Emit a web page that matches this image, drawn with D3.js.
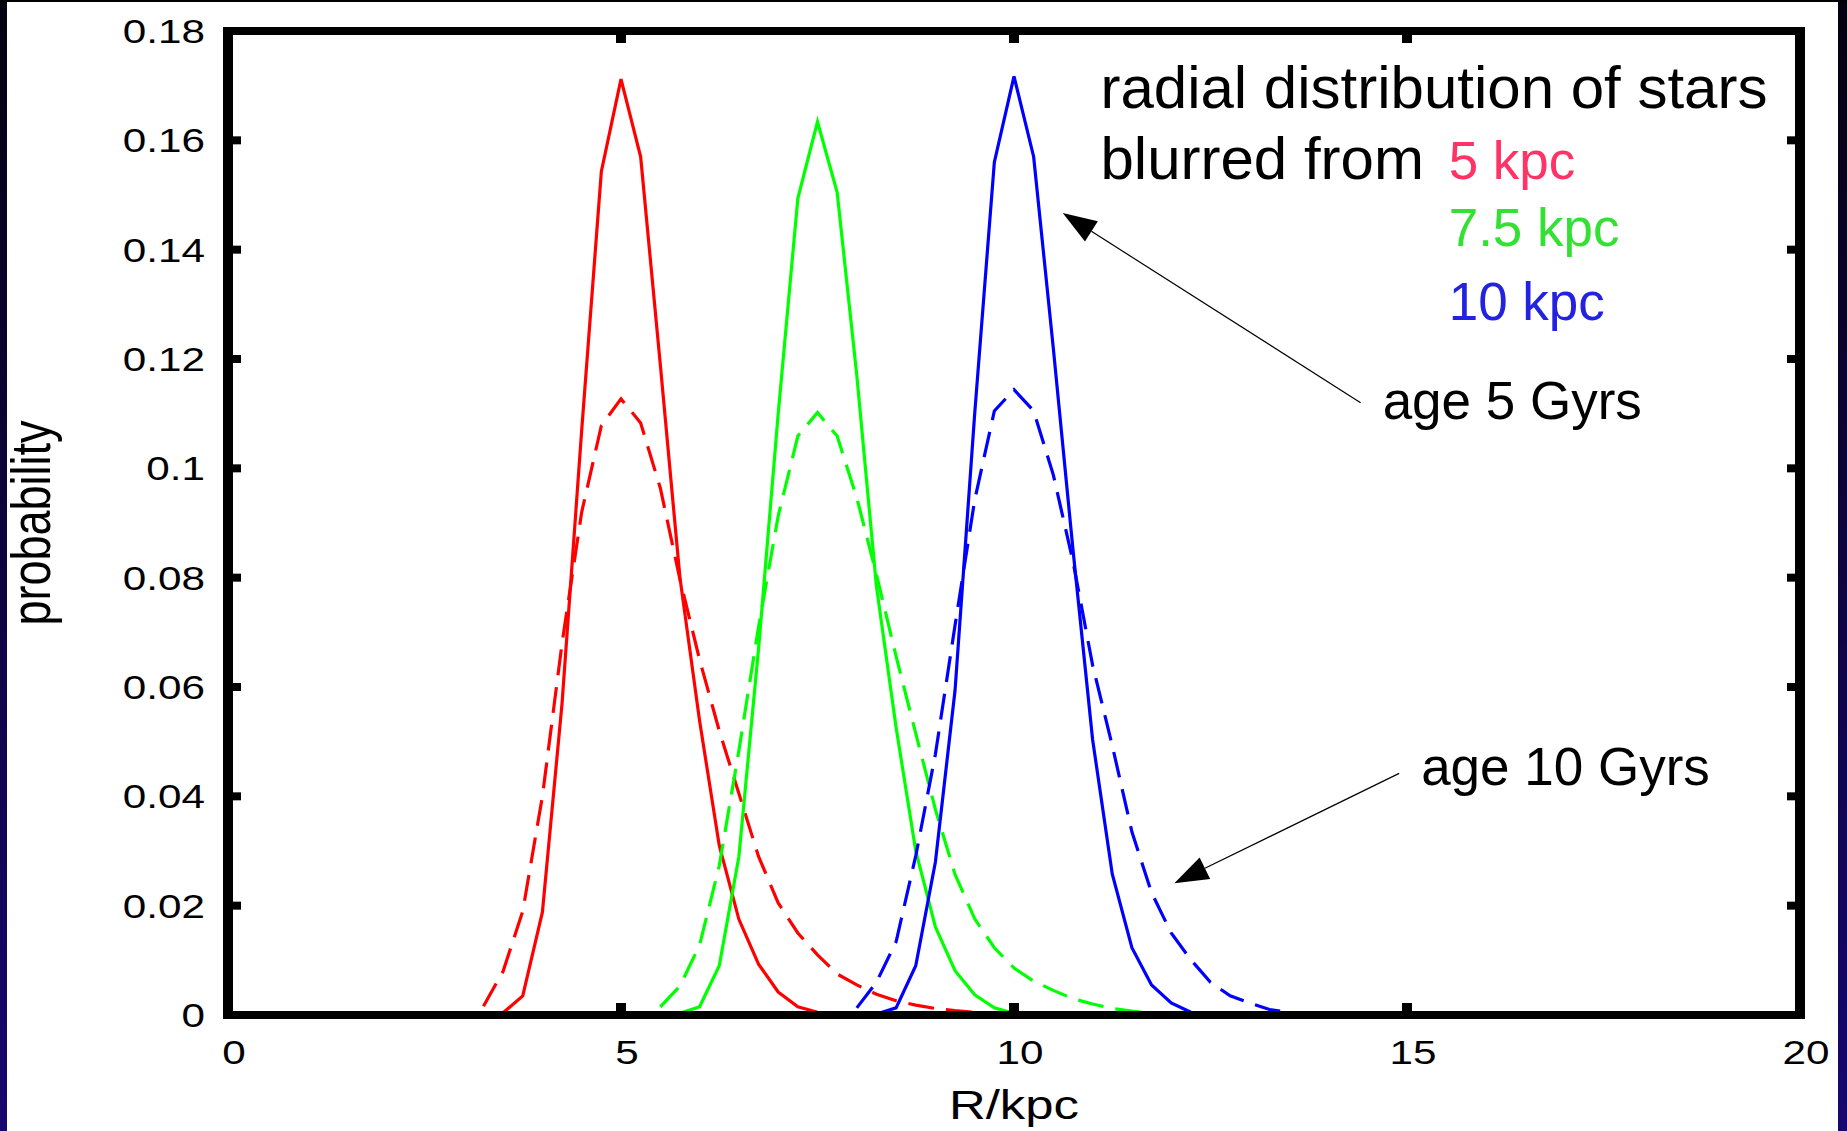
<!DOCTYPE html>
<html>
<head>
<meta charset="utf-8">
<script src="https://cdn.jsdelivr.net/npm/d3@7"></script>
<style>
  html, body { margin: 0; padding: 0; background: #fff; }
  svg { display: block; }
</style>
</head>
<body>
<script>
// values, R in kpc, probability per 0.25 kpc bin
const age5From5 = [[3.5,0.0004],[3.75,0.0035],[4.0,0.0188],[4.25,0.057],[4.5,0.107],[4.75,0.1543],[5.0,0.1712],[5.25,0.157],[5.5,0.119],[5.75,0.080],[6.0,0.0538],[6.25,0.031],[6.5,0.0175],[6.75,0.0093],[7.0,0.0042],[7.25,0.0015],[7.5,0.0005],[7.75,0.0002],[8.0,0.0001]];
const age10From5 = [[3.25,0.0016],[3.5,0.008],[3.75,0.019],[4.0,0.040],[4.25,0.068],[4.5,0.092],[4.75,0.1078],[5.0,0.1127],[5.25,0.1083],[5.5,0.0964],[5.75,0.0797],[6.0,0.065],[6.25,0.052],[6.5,0.0405],[6.75,0.029],[7.0,0.0205],[7.25,0.015],[7.5,0.011],[7.75,0.0075],[8.0,0.0055],[8.25,0.0038],[8.5,0.0026],[8.75,0.0018],[9.0,0.0012],[9.25,0.0008],[9.5,0.0005],[9.75,0.0002]];
const age5From75 = [[5.75,0.0003],[6.0,0.0015],[6.25,0.009],[6.5,0.029],[6.75,0.067],[7.0,0.110],[7.25,0.1494],[7.5,0.1634],[7.75,0.1505],[8.0,0.117],[8.25,0.0784],[8.5,0.0526],[8.75,0.030],[9.0,0.0161],[9.25,0.0081],[9.5,0.0037],[9.75,0.0013],[10.0,0.0003]];
const age10From75 = [[5.5,0.0015],[5.75,0.0053],[6.0,0.0128],[6.25,0.0273],[6.5,0.0484],[6.75,0.071],[7.0,0.0913],[7.25,0.1059],[7.5,0.1102],[7.75,0.1059],[8.0,0.0946],[8.25,0.0806],[8.5,0.0656],[8.75,0.0515],[9.0,0.0376],[9.25,0.0257],[9.5,0.0176],[9.75,0.0123],[10.0,0.0086],[10.25,0.0062],[10.5,0.0045],[10.75,0.003],[11.0,0.002],[11.25,0.0012],[11.5,0.0007],[11.75,0.0003]];
const age5From10 = [[8.25,0.0002],[8.5,0.0013],[8.75,0.009],[9.0,0.028],[9.25,0.0594],[9.5,0.110],[9.75,0.156],[10.0,0.1717],[10.25,0.157],[10.5,0.122],[10.75,0.0852],[11.0,0.0504],[11.25,0.0258],[11.5,0.0123],[11.75,0.0055],[12.0,0.0022],[12.25,0.0005]];
const age10From10 = [[8.0,0.0013],[8.25,0.006],[8.5,0.0134],[8.75,0.0291],[9.0,0.0477],[9.25,0.0713],[9.5,0.0942],[9.75,0.1105],[10.0,0.1144],[10.25,0.1105],[10.5,0.0988],[10.75,0.083],[11.0,0.064],[11.25,0.0493],[11.5,0.0335],[11.75,0.0224],[12.0,0.015],[12.25,0.0101],[12.5,0.006],[12.75,0.0035],[13.0,0.0022],[13.25,0.001],[13.5,0.0005],[13.75,0.0002],[14.0,0.0001]];

const xTicks = [0, 5, 10, 15, 20];
const yTicks = [0, 0.02, 0.04, 0.06, 0.08, 0.1, 0.12, 0.14, 0.16, 0.18];
const yTickLabels = ["0", "0.02", "0.04", "0.06", "0.08", "0.1", "0.12", "0.14", "0.16", "0.18"];

const seriesColors = ["#ff0000", "#00ff00", "#0000ff"];
const series = [
    { data: age5From5, color: 0, dashed: false },
    { data: age10From5, color: 0, dashed: true },
    { data: age5From75, color: 1, dashed: false },
    { data: age10From75, color: 1, dashed: true },
    { data: age5From10, color: 2, dashed: false },
    { data: age10From10, color: 2, dashed: true }
];

const width = 1847, height = 1131;
const margin = { left: 228, right: 47, top: 31, bottom: 116 };

const x = d3.scaleLinear().domain([0, 20]).range([margin.left, width - margin.right]);
const y = d3.scaleLinear().domain([0, 0.18]).range([height - margin.bottom, margin.top]);

const svg = d3.select("body").append("svg")
    .attr("width", width)
    .attr("height", height)
    .attr("viewBox", [0, 0, width, height]);

// dark slide background round the white picture
const grad = svg.append("defs").append("linearGradient")
    .attr("id", "edge").attr("x1", 0).attr("y1", 0).attr("x2", 0).attr("y2", 1);
grad.append("stop").attr("offset", "0%").attr("stop-color", "#04020f");
grad.append("stop").attr("offset", "100%").attr("stop-color", "#170770");

svg.append("rect").attr("width", width).attr("height", height).attr("fill", "#fff");
svg.append("rect").attr("x", 0).attr("y", 0).attr("width", 7).attr("height", height).attr("fill", "url(#edge)");
svg.append("rect").attr("x", 1838).attr("y", 0).attr("width", 9).attr("height", height).attr("fill", "url(#edge)");
svg.append("rect").attr("x", 0).attr("y", 0).attr("width", width).attr("height", 2).attr("fill", "#000");

// curves
const line = d3.line().x(d => x(d[0])).y(d => y(d[1]));

svg.append("g")
    .attr("fill", "none")
    .attr("stroke-width", 3.2)
    .attr("stroke-linejoin", "miter")
    .selectAll("path")
    .data(series)
    .join("path")
    .attr("stroke", d => seriesColors[d.color])
    .attr("stroke-dasharray", d => d.dashed ? "26,12" : null)
    .attr("d", d => line(d.data));

// frame and ticks, gnuplot style (mirrored on all sides)
const frame = svg.append("g").attr("stroke", "#000");

frame.selectAll(".yt")
    .data(yTicks)
    .join("g")
    .call(g => g.append("line")
        .attr("x1", x(0)).attr("x2", x(0) + 13)
        .attr("y1", d => y(d)).attr("y2", d => y(d))
        .attr("stroke-width", 8))
    .call(g => g.append("line")
        .attr("x1", x(20)).attr("x2", x(20) - 13)
        .attr("y1", d => y(d)).attr("y2", d => y(d))
        .attr("stroke-width", 8));

frame.selectAll(".xt")
    .data(xTicks)
    .join("g")
    .call(g => g.append("line")
        .attr("x1", d => x(d)).attr("x2", d => x(d))
        .attr("y1", y(0)).attr("y2", y(0) - 12)
        .attr("stroke-width", 10))
    .call(g => g.append("line")
        .attr("x1", d => x(d)).attr("x2", d => x(d))
        .attr("y1", y(0.18)).attr("y2", y(0.18) + 12)
        .attr("stroke-width", 10));

frame.append("line").attr("x1", x(0) - 5).attr("x2", x(20) + 5).attr("y1", y(0)).attr("y2", y(0)).attr("stroke-width", 8);
frame.append("line").attr("x1", x(0) - 5).attr("x2", x(20) + 5).attr("y1", y(0.18)).attr("y2", y(0.18)).attr("stroke-width", 8);
frame.append("line").attr("x1", x(0)).attr("x2", x(0)).attr("y1", y(0.18) - 4).attr("y2", y(0) + 4).attr("stroke-width", 10);
frame.append("line").attr("x1", x(20)).attr("x2", x(20)).attr("y1", y(0.18) - 4).attr("y2", y(0) + 4).attr("stroke-width", 10);

// tick labels (the original picture is stretched sideways)
const tickFont = "'Liberation Sans', Arial, sans-serif";
const stretch = 1.28;

svg.append("g")
    .attr("font-family", tickFont)
    .attr("font-size", 33)
    .attr("text-anchor", "end")
    .selectAll("text")
    .data(yTicks)
    .join("text")
    .attr("transform", d => `translate(${x(0) - 23},${y(d) + 12}) scale(${stretch},1)`)
    .text((d, i) => yTickLabels[i]);

svg.append("g")
    .attr("font-family", tickFont)
    .attr("font-size", 33)
    .attr("text-anchor", "middle")
    .selectAll("text")
    .data(xTicks)
    .join("text")
    .attr("transform", d => `translate(${x(d) + 6},${y(0) + 49}) scale(${stretch},1)`)
    .text(d => d);

svg.append("text")
    .attr("font-family", tickFont)
    .attr("font-size", 41)
    .attr("text-anchor", "middle")
    .attr("transform", `translate(${x(10)},${height - 12}) scale(1.24,1)`)
    .text("R/kpc");

svg.append("text")
    .attr("font-family", tickFont)
    .attr("font-size", 45)
    .attr("text-anchor", "middle")
    .attr("transform", `translate(50,${y(0.09)}) scale(1.25,1) rotate(-90)`)
    .text("probability");

// annotations
const labelFont = "'Liberation Sans', Arial, sans-serif";
const notes = [
    { text: "radial distribution of stars", r: 11.1, p: 0.1659, size: 60, fill: "#000" },
    { text: "blurred from", r: 11.1, p: 0.153, size: 60, fill: "#000" },
    { text: "5 kpc", r: 15.53, p: 0.153, size: 53, fill: "#ff3366" },
    { text: "7.5 kpc", r: 15.53, p: 0.1407, size: 53, fill: "#33e033" },
    { text: "10 kpc", r: 15.53, p: 0.1271, size: 53, fill: "#2222e0" },
    { text: "age 5 Gyrs", r: 14.69, p: 0.109, size: 53, fill: "#000" },
    { text: "age 10 Gyrs", r: 15.18, p: 0.042, size: 53, fill: "#000" }
];

svg.append("g")
    .attr("font-family", labelFont)
    .selectAll("text")
    .data(notes)
    .join("text")
    .attr("x", d => x(d.r))
    .attr("y", d => y(d.p))
    .attr("font-size", d => d.size)
    .attr("fill", d => d.fill)
    .text(d => d.text);

const arrows = [
    { from: [14.41, 0.112], to: [10.62, 0.1467] },
    { from: [14.9, 0.0442], to: [12.04, 0.0241] }
];

const ag = svg.append("g");
arrows.forEach(a => {
    const x0 = x(a.from[0]), y0 = y(a.from[1]);
    const x1 = x(a.to[0]), y1 = y(a.to[1]);
    const ang = Math.atan2(y1 - y0, x1 - x0);
    const len = 34, half = 12;
    const bx = x1 - len * Math.cos(ang), by = y1 - len * Math.sin(ang);
    ag.append("line")
        .attr("x1", x0).attr("y1", y0).attr("x2", bx).attr("y2", by)
        .attr("stroke", "#000").attr("stroke-width", 1.2);
    ag.append("path")
        .attr("fill", "#000")
        .attr("d", `M${x1},${y1}L${bx - half * Math.sin(ang)},${by + half * Math.cos(ang)}L${bx + half * Math.sin(ang)},${by - half * Math.cos(ang)}Z`);
});
</script>
</body>
</html>
